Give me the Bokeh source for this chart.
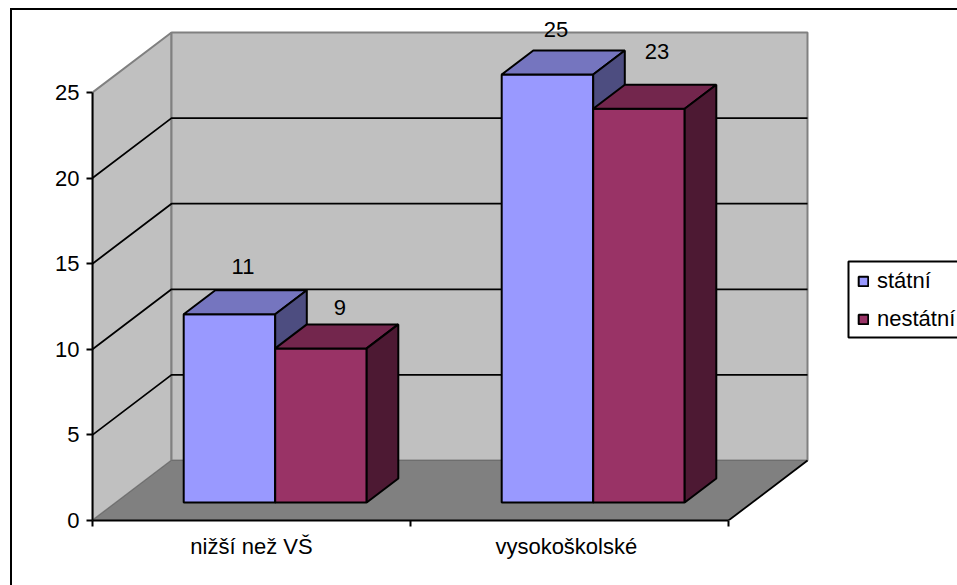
from bokeh.plotting import figure
from bokeh.models import (Range1d, LinearAxis, FixedTicker, Legend, LegendItem, BoxAnnotation)
from bokeh.core.properties import value
from bokeh.embed import file_html
from bokeh.resources import INLINE

categories = ["nižší než VŠ", "vysokoškolské"]
series_names = ["státní", "nestátní"]
statni = [11, 25]
nestatni = [9, 23]
y_ticks = [0, 5, 10, 15, 20, 25]
FONT = "Liberation Sans"
FS = "22px"

# colours: front, top, side
colors = [("#9999FF", "#7575BF", "#4D4D80"), ("#993366", "#73264D", "#4D1933")]

W, H = 957, 585
PX_PER_X = 318.0
PX_PER_Y = 17.12
DX = 79 / PX_PER_X       # oblique depth offset in data units
DY = 60 / PX_PER_Y
Z0, Z1 = 0.3, 0.7        # bar depth span
BAR_W = 91.5 / PX_PER_X
NCAT = len(categories)
YMAX = y_ticks[-1]


def proj(x, v, z):
    return x + z * DX, v + z * DY


p = figure(width=W, height=H, output_backend="svg", toolbar_location=None,
           x_range=Range1d(0, 865 / PX_PER_X), y_range=Range1d(0, 520 / PX_PER_Y),
           x_axis_type=None, y_axis_type=None,
           min_border_left=92, min_border_right=0, min_border_top=0, min_border_bottom=65)
p.outline_line_color = None
p.grid.visible = False
p.background_fill_color = None
p.border_fill_color = None
# outer chart border: its right and bottom edges fall off the page as in the reference
p.styles = {
    "background-color": "white",
    "background-image": "linear-gradient(black,black),linear-gradient(black,black)",
    "background-size": "2px 100%, 100% 2px",
    "background-position": "10px 8px, 10px 8px",
    "background-repeat": "no-repeat",
}

GRAY = "#808080"
WALL = "#C0C0C0"


def face(pts, fill, line, lw):
    xs, ys = zip(*pts)
    return p.patch(list(xs), list(ys), fill_color=fill, line_color=line, line_width=lw)


# left wall, back wall, floor
face([proj(0, 0, 0), proj(0, YMAX, 0), proj(0, YMAX, 1), proj(0, 0, 1)], WALL, GRAY, 2)
face([proj(0, 0, 1), proj(0, YMAX, 1), proj(NCAT, YMAX, 1), proj(NCAT, 0, 1)], WALL, GRAY, 2)
face([proj(0, 0, 0), proj(0, 0, 1), proj(NCAT, 0, 1), proj(NCAT, 0, 0)], GRAY, "#6E6E6E", 1)

# gridlines
for v in y_ticks[1:-1]:
    a, b, c = proj(0, v, 0), proj(0, v, 1), proj(NCAT, v, 1)
    p.line([a[0], b[0], c[0]], [a[1], b[1], c[1]], line_color="black", line_width=1.8)
# floor right edge
a, b = proj(NCAT, 0, 0), proj(NCAT, 0, 1)
p.line([a[0], b[0]], [a[1], b[1]], line_color="black", line_width=1.8)

# bars
renderers = {}
label_x, label_y = [], []
values = [statni, nestatni]
for ci in range(NCAT):
    start = ci + (1 - 2 * BAR_W) / 2
    for si, vals in enumerate(values):
        v = vals[ci]
        x0, x1 = start + si * BAR_W, start + (si + 1) * BAR_W
        front, top, side = colors[si]
        r = face([proj(x0, 0, Z0), proj(x0, v, Z0), proj(x1, v, Z0), proj(x1, 0, Z0)], front, "black", 2)
        face([proj(x0, v, Z0), proj(x0, v, Z1), proj(x1, v, Z1), proj(x1, v, Z0)], top, "black", 2)
        face([proj(x1, 0, Z0), proj(x1, v, Z0), proj(x1, v, Z1), proj(x1, 0, Z1)], side, "black", 2)
        renderers.setdefault(si, r)
        lx, ly = proj((x0 + x1) / 2, v, Z0)
        label_x.append(lx)
        label_y.append(ly)

# data labels (text offsets in px from front-top centre of each bar)
label_text = [str(values[si][ci]) for ci in range(NCAT) for si in range(2)]
label_dx = [13.5, 19, 8.5, 18]
label_dy = [-48, -41, -45, -57]
p.text(x=label_x, y=label_y, text=label_text, x_offset=label_dx, y_offset=label_dy,
       text_font=value(FONT), text_font_size=value(FS), text_color="black",
       text_align="center", text_baseline="middle")

# axes
yax = LinearAxis(ticker=FixedTicker(ticks=y_ticks), bounds=(0, YMAX))
yax.axis_line_color = "black"
yax.axis_line_width = 2
yax.major_tick_line_color = "black"
yax.major_tick_line_width = 2
yax.major_tick_out = 6
yax.major_tick_in = 0
yax.minor_tick_line_color = None
yax.major_label_standoff = 7
yax.major_label_text_font = FONT
yax.major_label_text_font_size = FS
yax.major_label_text_color = "black"
p.add_layout(yax, "left")

label_pos = [0.5, 1.49]
xax = LinearAxis(ticker=FixedTicker(ticks=label_pos, minor_ticks=list(range(NCAT + 1))),
                 bounds=(0, NCAT))
xax.major_label_overrides = dict(zip(label_pos, categories))
xax.axis_line_color = "black"
xax.axis_line_width = 2
xax.major_tick_line_color = None
xax.major_tick_out = 0
xax.major_tick_in = 0
xax.minor_tick_line_color = "black"
xax.minor_tick_line_width = 2
xax.minor_tick_out = 6
xax.minor_tick_in = 0
xax.major_label_standoff = 7
xax.major_label_text_font = FONT
xax.major_label_text_font_size = FS
xax.major_label_text_color = "black"
p.add_layout(xax, "below")

# legend frame, runs off the right edge of the page as in the reference
p.add_layout(BoxAnnotation(left=848, right=1100, top=261, bottom=337,
                           left_units="canvas", right_units="canvas",
                           top_units="canvas", bottom_units="canvas",
                           fill_color="white", fill_alpha=1,
                           line_color="black", line_width=2, line_alpha=1))

legend = Legend(items=[LegendItem(label=series_names[i], renderers=[renderers[i]]) for i in range(2)],
                location=(765, 188), orientation="vertical",
                padding=9, margin=0, spacing=12,
                glyph_width=12, glyph_height=12, label_standoff=8,
                label_text_font=FONT, label_text_font_size=FS, label_text_color="black",
                border_line_color=None,
                background_fill_color=None, background_fill_alpha=0)
p.add_layout(legend, "center")

open("out.html", "w").write(file_html(p, INLINE))
